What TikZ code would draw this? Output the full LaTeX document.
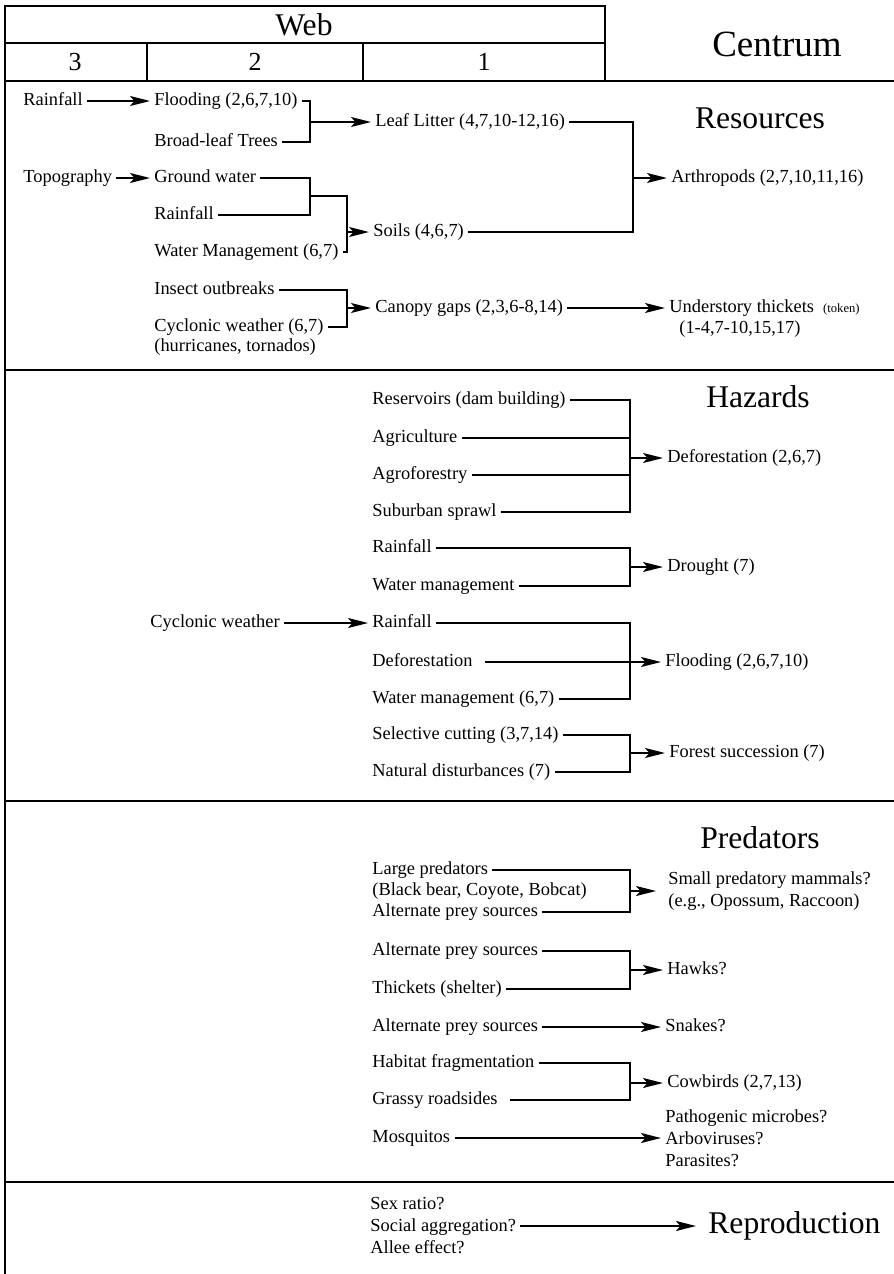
\documentclass[tikz,border=0pt]{standalone}
\usepackage{fontspec}
\setmainfont{Liberation Serif}
\usetikzlibrary{arrows.meta}
\newcommand{\tokentag}[1]{{\fontsize{6.3bp}{8bp}\selectfont #1}}

\begin{document}
\begin{tikzpicture}[>={Stealth[length=10bp, width=5bp, inset=2.2bp]}, scale=0.5, yscale=-1,
  every node/.style={font=\fontsize{9.2bp}{11bp}\selectfont, inner sep=2bp},
  lbl/.style={anchor=west, text height=6.6bp, text depth=2.2bp},
  multi/.style={anchor=west, align=left},
  head/.style={font=\fontsize{15.8bp}{18bp}\selectfont},
  link/.style={line width=0.95bp},
  frame/.style={line width=1.2bp}]
  \useasboundingbox (0bp,0bp) rectangle (894bp,1274bp);

  % Frame
  \draw[frame] (5bp,1274bp) -- (5bp,6bp) -- (605bp,6bp) -- (605bp,81bp);
  \draw[frame] (5bp,43bp) -- (605bp,43bp);
  \draw[frame] (147bp,43bp) -- (147bp,81bp);
  \draw[frame] (363bp,43bp) -- (363bp,81bp);
  \foreach \y in {81,370,801,1182}
    \draw[frame] (5bp,\y bp) -- (894bp,\y bp);

  % Header
  \node[head] (web) at (304bp,25bp) {Web};
  \node[font=\fontsize{13bp}{15bp}\selectfont] (col3) at (75bp,62bp) {3};
  \node[font=\fontsize{13bp}{15bp}\selectfont] (col2) at (255bp,62bp) {2};
  \node[font=\fontsize{13bp}{15bp}\selectfont] (col1) at (484bp,62bp) {1};
  \node[font=\fontsize{18.5bp}{21bp}\selectfont] (centrum) at (777bp,44bp) {Centrum};

  % Resources
  \node[head] (resources) at (760bp,118bp) {Resources};
  \node[lbl] (rain1) at (19bp,101bp) {Rainfall};
  \node[lbl] (flood1) at (150bp,101bp) {Flooding (2,6,7,10)};
  \node[lbl] (broadleaf) at (150bp,142bp) {Broad-leaf Trees};
  \node[lbl] (topo) at (19bp,178bp) {Topography};
  \node[lbl] (ground) at (150bp,178bp) {Ground water};
  \node[lbl] (rain2) at (150bp,215bp) {Rainfall};
  \node[lbl] (waterman1) at (150bp,252bp) {Water Management (6,7)};
  \node[lbl] (insect) at (150bp,290bp) {Insect outbreaks};
  \node[lbl] (cyclone1) at (150bp,327bp) {Cyclonic weather (6,7)};
  \node[lbl] (hurricane) at (150bp,347bp) {(hurricanes, tornados)};
  \node[lbl] (litter) at (371bp,122bp) {Leaf Litter (4,7,10-12,16)};
  \node[lbl] (soils) at (369bp,232bp) {Soils (4,6,7)};
  \node[lbl] (canopy) at (371bp,308bp) {Canopy gaps (2,3,6-8,14)};
  \node[lbl] (arthro) at (667bp,178bp) {Arthropods (2,7,10,11,16)};
  \node[lbl] (thicket) at (665bp,308bp) {Understory thickets\enspace\tokentag{(token)}};
  \node[lbl] (thicketref) at (675bp,329bp) {(1-4,7-10,15,17)};

  \coordinate (jlitter) at (310bp,122bp);
  \coordinate (jwater) at (310bp,196bp);
  \coordinate (jsoils) at (347bp,232bp);
  \coordinate (jcanopy) at (347bp,308bp);
  \coordinate (jarthro) at (633bp,178bp);

  \draw[link, ->] (rain1) to (flood1);
  \draw[link, ->] (topo) to (ground);
  \draw[link] (flood1.east) -| (jlitter) |- (broadleaf.east);
  \draw[link, ->] (jlitter) to (litter);
  \draw[link] (ground.east) -| (jwater) |- (rain2.east);
  \draw[link] (jwater) -| (jsoils) |- (waterman1.east);
  \draw[link, ->] (jsoils) to (soils);
  \draw[link] (insect.east) -| (jcanopy) |- (cyclone1.east);
  \draw[link, ->] (jcanopy) to (canopy);
  \draw[link, ->] (canopy) to (thicket);
  \draw[link] (litter.east) -| (jarthro) |- (soils.east);
  \draw[link, ->] (jarthro) to (arthro);

  % Hazards
  \node[head] (hazards) at (758bp,397bp) {Hazards};
  \node[lbl] (reservoir) at (368bp,400bp) {Reservoirs (dam building)};
  \node[lbl] (agri) at (368bp,438bp) {Agriculture};
  \node[lbl] (agrofor) at (368bp,475bp) {Agroforestry};
  \node[lbl] (sprawl) at (368bp,512bp) {Suburban sprawl};
  \node[lbl] (deforest1) at (663bp,458bp) {Deforestation (2,6,7)};
  \node[lbl] (rain3) at (368bp,548bp) {Rainfall};
  \node[lbl] (waterman2) at (368bp,586bp) {Water management};
  \node[lbl] (drought) at (663bp,567bp) {Drought (7)};
  \node[lbl] (cyclone2) at (146bp,623bp) {Cyclonic weather};
  \node[lbl] (rain4) at (368bp,623bp) {Rainfall};
  \node[lbl] (deforest2) at (368bp,662bp) {Deforestation};
  \node[lbl] (waterman3) at (368bp,699bp) {Water management (6,7)};
  \node[lbl] (flood2) at (661bp,662bp) {Flooding (2,6,7,10)};
  \node[lbl] (cutting) at (368bp,735bp) {Selective cutting (3,7,14)};
  \node[lbl] (disturb) at (368bp,772bp) {Natural disturbances (7)};
  \node[lbl] (succession) at (665bp,753bp) {Forest succession (7)};

  \coordinate (jdeforest) at (630bp,458bp);
  \coordinate (jdrought) at (630bp,567bp);
  \coordinate (jflood) at (630bp,662bp);
  \coordinate (jsuccession) at (630bp,753bp);

  \draw[link] (reservoir.east) -| (jdeforest) |- (sprawl.east);
  \draw[semithick] (agri.east) -- (agri.east -| jdeforest);
  \draw[link] (agrofor.east) -- (agrofor.east -| jdeforest);
  \draw[link, ->] (jdeforest) to (deforest1);
  \draw[link] (rain3.east) -| (jdrought) |- (waterman2.east);
  \draw[link, ->] (jdrought) to (drought);
  \draw[link, ->] (cyclone2) to (rain4);
  \draw[link] (rain4.east) -| (jflood) |- (waterman3.east);
  \draw[link, ->] ([xshift=8bp]deforest2.east) to (flood2);
  \draw[link] (cutting.east) -| (jsuccession) |- (disturb.east);
  \draw[link, ->] (jsuccession) to (succession);

  % Predators
  \node[head] (predators) at (760bp,838bp) {Predators};
  \node[lbl] (largepred) at (368bp,870bp) {Large predators};
  \node[lbl] (bigmammals) at (368bp,891bp) {(Black bear, Coyote, Bobcat)};
  \node[lbl] (altprey1) at (368bp,912bp) {Alternate prey sources};
  \node[multi] (smallpred) at (664bp,891bp) {Small predatory mammals?\\(e.g., Opossum, Raccoon)};
  \node[lbl] (altprey2) at (368bp,951bp) {Alternate prey sources};
  \node[lbl] (shelter) at (368bp,989bp) {Thickets (shelter)};
  \node[lbl] (hawks) at (663bp,970bp) {Hawks?};
  \node[lbl] (altprey3) at (368bp,1027bp) {Alternate prey sources};
  \node[lbl] (snakes) at (661bp,1027bp) {Snakes?};
  \node[lbl] (habitat) at (368bp,1063bp) {Habitat fragmentation};
  \node[lbl] (roadside) at (368bp,1100bp) {Grassy roadsides};
  \node[lbl] (cowbirds) at (663bp,1083bp) {Cowbirds (2,7,13)};
  \node[lbl] (mosquito) at (368bp,1138bp) {Mosquitos};
  \node[multi] (pathogen) at (661bp,1138bp) {Pathogenic microbes?\\Arboviruses?\\Parasites?};

  \coordinate (jsmallpred) at (630bp,891bp);
  \coordinate (jhawks) at (630bp,970bp);
  \coordinate (jcowbirds) at (630bp,1083bp);

  \draw[link] (largepred.east) -| (jsmallpred) |- (altprey1.east);
  \draw[link, ->] (jsmallpred) to ([xshift=-8bp]jsmallpred -| smallpred.west);
  \draw[link] (altprey2.east) -| (jhawks) |- (shelter.east);
  \draw[link, ->] (jhawks) to (hawks);
  \draw[link, ->] (altprey3) to (snakes);
  \draw[link] (habitat.east) -| (jcowbirds) |- ([xshift=8bp]roadside.east);
  \draw[link, ->] (jcowbirds) to (cowbirds);
  \draw[link, ->] (mosquito) to (mosquito -| pathogen.west);

  % Reproduction
  \node[multi] (social) at (366bp,1226bp) {Sex ratio?\\Social aggregation?\\Allee effect?};
  \node[head, anchor=west] (repro) at (704bp,1226bp) {Reproduction};
  \draw[link, ->] (social.east) to ([xshift=-8bp]social.east -| repro.west);
\end{tikzpicture}
\end{document}
